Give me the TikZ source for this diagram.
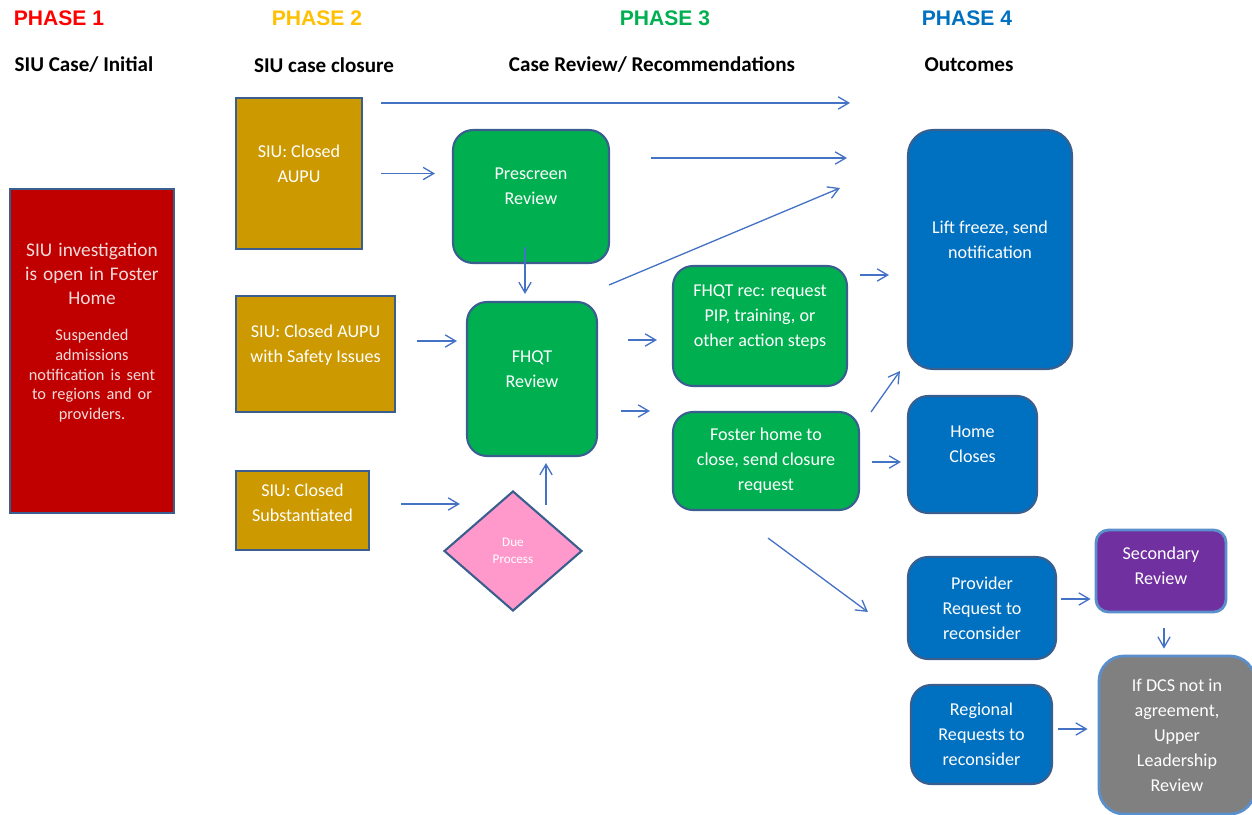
\documentclass[tikz,border=0pt]{standalone}
\usepackage{fontspec}
\setmainfont{Carlito}
\newfontfamily\phasefont{Liberation Sans}
\usetikzlibrary{arrows.meta, shapes.geometric, calc}
\definecolor{siured}{HTML}{C00000}
\definecolor{siutext}{HTML}{F2DCDB}
\definecolor{siugold}{HTML}{CC9900}
\definecolor{revgreen}{HTML}{00B050}
\definecolor{outblue}{HTML}{0070C0}
\definecolor{secpurple}{HTML}{7030A0}
\definecolor{upgray}{HTML}{808080}
\definecolor{dppink}{HTML}{FF99CC}
\definecolor{edgeblue}{HTML}{3A5F8F}
\definecolor{lightedge}{HTML}{5B8FCB}
\definecolor{arrblue}{HTML}{4472C4}
\definecolor{ph_red}{HTML}{FF0000}
\definecolor{ph_amber}{HTML}{FFC000}
\definecolor{ph_green}{HTML}{00B050}
\definecolor{ph_blue}{HTML}{0070C0}
\tikzset{
    box_base/.style={
        rectangle, draw=edgeblue, line width=1.2pt, text=white,
        align=center, inner sep=2pt, font=\fontsize{10.3}{14.2}\selectfont
    },
    box_gold/.style={box_base, fill=siugold},
    box_green/.style={box_base, fill=revgreen, rounded corners=0.4cm},
    box_blue/.style={box_base, fill=outblue, rounded corners=0.4cm},
    box_purple/.style={box_base, fill=secpurple, draw=lightedge, line width=1.6pt, rounded corners=0.25cm},
    box_gray/.style={box_base, fill=upgray, draw=lightedge, line width=1.6pt, rounded corners=0.5cm},
    txt_up/.style={text depth=0.4cm},
    phase_lbl/.style={font=\phasefont\bfseries\fontsize{12}{14}\selectfont},
    col_lbl/.style={font=\bfseries\fontsize{12}{14}\selectfont, text=black},
    flow_arrow/.style={draw=arrblue, line width=0.75pt, -{Straight Barb[length=6pt,width=7pt]}}
}
\begin{document}
\begin{tikzpicture}[x=0.02cm, y=-0.02cm]
    \useasboundingbox (0,0) rectangle (1252,815);

    % phase headings
    \node[phase_lbl, text=ph_red] (ph1) at (59,18) {PHASE 1};
    \node[phase_lbl, text=ph_amber] (ph2) at (317,18) {PHASE 2};
    \node[phase_lbl, text=ph_green] (ph3) at (665,18) {PHASE 3};
    \node[phase_lbl, text=ph_blue] (ph4) at (967,18) {PHASE 4};

    \node[col_lbl] (col1) at (84,65) {SIU Case/ Initial};
    \node[col_lbl] (col2) at (324,65) {SIU case closure};
    \node[col_lbl] (col3) at (652,65) {Case Review/ Recommendations};
    \node[col_lbl] (col4) at (969,65) {Outcomes};

    % phase 1
    \node[box_base, fill=siured, text=siutext, minimum width=3.28cm, minimum height=6.48cm,
          text width=3.0cm, text depth=4.03cm] (siu) at (92,351)
        {{\fontsize{11}{13.6}\selectfont SIU investigation\\is open in Foster\\Home\par}
         \vspace{9pt}
         {\fontsize{9.3}{11.3}\selectfont Suspended\\admissions\\notification is sent\\to regions and or\\providers.\par}};

    % phase 2
    \node[box_gold, txt_up, minimum width=2.52cm, minimum height=3.02cm] (g1) at (299,173.5) {SIU: Closed\\AUPU};
    \node[box_gold, txt_up, minimum width=3.18cm, minimum height=2.32cm] (g2) at (315.5,354) {SIU: Closed AUPU\\with Safety Issues};
    \node[box_gold, text depth=0.3cm, minimum width=2.66cm, minimum height=1.58cm] (g3) at (302.5,510.5) {SIU: Closed\\Substantiated};

    % phase 3
    \node[box_green, txt_up, minimum width=3.12cm, minimum height=2.66cm] (pre) at (531,196.5) {Prescreen\\Review};
    \node[box_green, txt_up, minimum width=2.6cm, minimum height=3.08cm] (fhqt) at (532,379) {FHQT\\Review};
    \node[diamond, draw=edgeblue, line width=1.2pt, fill=dppink, aspect=1.15, inner sep=0pt,
          minimum width=2.76cm, minimum height=2.4cm, text=white, align=center,
          font=\fontsize{7.5}{10}\selectfont] (dp) at (513,551) {Due\\Process};
    \node[box_green, txt_up, minimum width=3.48cm, minimum height=2.4cm] (rec) at (760,326) {FHQT rec: request\\PIP, training, or\\other action steps};
    \node[box_green, minimum width=3.72cm, minimum height=1.96cm] (fos) at (766,461) {Foster home to\\close, send closure\\request};

    % phase 4
    \node[box_blue, txt_up, rounded corners=0.5cm, minimum width=3.28cm, minimum height=4.78cm] (lift) at (990,249.5) {Lift freeze, send\\notification};
    \node[box_blue, txt_up, minimum width=2.58cm, minimum height=2.34cm] (home) at (972.5,454.5) {Home\\Closes};
    \node[box_blue, minimum width=2.96cm, minimum height=2.04cm] (prov) at (982,608) {Provider\\Request to\\reconsider};
    \node[box_blue, minimum width=2.82cm, minimum height=1.98cm] (reg) at (981.5,734.5) {Regional\\Requests to\\reconsider};
    \node[box_purple, text depth=0.2cm, minimum width=2.6cm, minimum height=1.64cm] (sec) at (1161,571) {Secondary\\Review};
    \node[box_gray, minimum width=3.12cm, minimum height=3.16cm] (dcs) at (1177,735) {If DCS not in\\agreement,\\Upper\\Leadership\\Review};

    % loose arrow ends
    \coordinate (topend) at (850,104);
    \coordinate (preend) at (847,158);
    \coordinate (diagend) at (840,188);

    \draw[flow_arrow] ($(g1.north east)+(18,6)$) coordinate (topstart) -- (topstart -| topend);
    \draw[flow_arrow] ($(g1.east)+(18,0)$) -- ($(g1.east -| pre.west)+(-17,0)$);
    \draw[flow_arrow] ($(pre.east)+(41,-38.5)$) coordinate (prestart) -- (prestart -| preend);
    \draw[flow_arrow] ($(fhqt.north east)+(11,-16)$) -- (diagend);
    \draw[flow_arrow] ($(pre.south)+(-6,-17)$) -- ($(pre.south |- fhqt.north)+(-6,-7)$);
    \draw[flow_arrow] ($(g2.east)+(21,-13)$) -- ($(g2.east -| fhqt.west)+(-9,-13)$);
    \draw[flow_arrow] ($(g3.east)+(31,-6.5)$) -- ($(g3.east -| dp.west)+(17,-6.5)$);
    \draw[flow_arrow] ($(dp.north)+(33,15)$) -- ($(dp.north |- fhqt.south)+(33,6)$);
    \draw[flow_arrow] ($(fhqt.east)+(30,-39)$) -- ($(fhqt.east -| rec.west)+(-15,-39)$);
    \draw[flow_arrow] ($(fhqt.east)+(23,32)$) -- ($(fhqt.east -| fos.west)+(-22,32)$);
    \draw[flow_arrow] ($(rec.east)+(12,-51)$) -- ($(rec.east -| lift.west)+(-18,-51)$);
    \draw[flow_arrow] ($(fos.north east)+(11,1)$) -- ($(lift.south west)+(-7,1)$);
    \draw[flow_arrow] ($(fos.east)+(12,1)$) -- ($(fos.east -| home.west)+(-6,1)$);
    \draw[flow_arrow] ($(fos.south)+(2,27)$) -- ($(prov.west)+(-39,4)$);
    \draw[flow_arrow] ($(prov.east)+(4,-9)$) -- ($(prov.east -| sec.west)+(-4,-9)$);
    \draw[flow_arrow] ($(sec.south)+(3,15)$) -- ($(sec.south |- dcs.north)+(3,-6)$);
    \draw[flow_arrow] ($(reg.east)+(5,-5.5)$) -- ($(reg.east -| dcs.west)+(-10,-5.5)$);

\end{tikzpicture}
\end{document}
